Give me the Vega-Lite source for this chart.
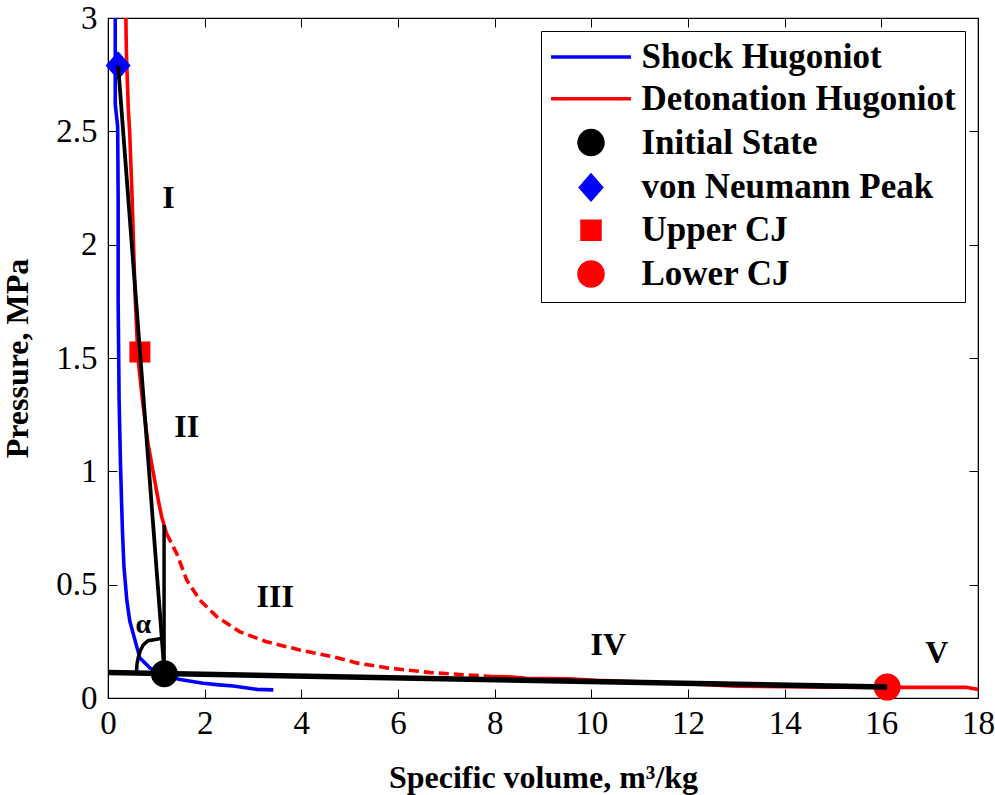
{
  "$schema": "https://vega.github.io/schema/vega-lite/v6.json",
  "width": 870,
  "height": 680,
  "autosize": {"type": "none"},
  "padding": {"left": 108, "top": 18, "right": 17, "bottom": 97},
  "background": "white",
  "config": {
    "view": {"stroke": "black", "strokeWidth": 1.2},
    "axis": {
      "grid": false,
      "labelFlush": false,
      "labelOverlap": false,
      "domainColor": "black",
      "tickColor": "black",
      "labelColor": "black",
      "titleColor": "black",
      "labelFont": "Liberation Serif",
      "labelFontSize": 33,
      "labelFontWeight": "normal",
      "titleFont": "Liberation Serif",
      "titleFontSize": 32,
      "titleFontWeight": "bold"
    },
    "legend": {
      "labelFont": "Liberation Serif",
      "labelFontSize": 35,
      "labelFontWeight": "bold",
      "labelColor": "black",
      "labelLimit": 500
    }
  },
  "datasets": {
    "shock": [
      {"v": 0.15, "p": 3.0}, {"v": 0.15, "p": 2.62}, {"v": 0.2, "p": 2.52}, {"v": 0.21, "p": 2.2},
      {"v": 0.21, "p": 1.75}, {"v": 0.23, "p": 1.31}, {"v": 0.26, "p": 1.02}, {"v": 0.28, "p": 0.87},
      {"v": 0.3, "p": 0.73}, {"v": 0.33, "p": 0.58}, {"v": 0.39, "p": 0.43}, {"v": 0.45, "p": 0.34},
      {"v": 0.52, "p": 0.285}, {"v": 0.66, "p": 0.176}, {"v": 0.87, "p": 0.132}, {"v": 1.14, "p": 0.1},
      {"v": 1.49, "p": 0.082}, {"v": 1.97, "p": 0.065}, {"v": 2.3, "p": 0.058}, {"v": 2.59, "p": 0.053},
      {"v": 3.08, "p": 0.038}, {"v": 3.42, "p": 0.036}
    ],
    "det": [
      {"branch": "upper", "v": 0.37, "p": 3.0}, {"branch": "upper", "v": 0.38, "p": 2.85},
      {"branch": "upper", "v": 0.42, "p": 2.6}, {"branch": "upper", "v": 0.45, "p": 2.49},
      {"branch": "upper", "v": 0.5, "p": 2.2}, {"branch": "upper", "v": 0.56, "p": 1.78},
      {"branch": "upper", "v": 0.62, "p": 1.5}, {"branch": "upper", "v": 0.72, "p": 1.3},
      {"branch": "upper", "v": 0.83, "p": 1.12}, {"branch": "upper", "v": 0.94, "p": 0.99},
      {"branch": "upper", "v": 1.04, "p": 0.873}, {"branch": "upper", "v": 1.11, "p": 0.8},
      {"branch": "upper", "v": 1.21, "p": 0.726},
      {"branch": "unstable", "v": 1.21, "p": 0.726}, {"branch": "unstable", "v": 1.42, "p": 0.638},
      {"branch": "unstable", "v": 1.63, "p": 0.52}, {"branch": "unstable", "v": 1.9, "p": 0.432},
      {"branch": "unstable", "v": 2.25, "p": 0.359}, {"branch": "unstable", "v": 2.73, "p": 0.292},
      {"branch": "unstable", "v": 3.28, "p": 0.248}, {"branch": "unstable", "v": 3.97, "p": 0.212},
      {"branch": "unstable", "v": 4.66, "p": 0.182}, {"branch": "unstable", "v": 5.14, "p": 0.155},
      {"branch": "unstable", "v": 5.77, "p": 0.133}, {"branch": "unstable", "v": 6.68, "p": 0.112},
      {"branch": "unstable", "v": 7.94, "p": 0.095},
      {"branch": "lower", "v": 7.94, "p": 0.095}, {"branch": "lower", "v": 8.3, "p": 0.093},
      {"branch": "lower", "v": 8.65, "p": 0.087}, {"branch": "lower", "v": 9.5, "p": 0.085},
      {"branch": "lower", "v": 10.1, "p": 0.078}, {"branch": "lower", "v": 11.0, "p": 0.072},
      {"branch": "lower", "v": 11.4, "p": 0.066}, {"branch": "lower", "v": 12.3, "p": 0.06},
      {"branch": "lower", "v": 13.0, "p": 0.052}, {"branch": "lower", "v": 14.0, "p": 0.05},
      {"branch": "lower", "v": 15.0, "p": 0.048}, {"branch": "lower", "v": 16.15, "p": 0.047},
      {"branch": "lower", "v": 17.0, "p": 0.047}, {"branch": "lower", "v": 17.75, "p": 0.047},
      {"branch": "lower", "v": 18.0, "p": 0.038}
    ],
    "states": [
      {"series": "Initial State", "v": 1.165, "p": 0.107},
      {"series": "von Neumann Peak", "v": 0.21, "p": 2.79},
      {"series": "Upper CJ", "v": 0.66, "p": 1.526},
      {"series": "Lower CJ", "v": 16.12, "p": 0.048}
    ],
    "rayleigh": [
      {"part": "vN-initial", "v": 0.21, "p": 2.79}, {"part": "vN-initial", "v": 1.17, "p": 0.105},
      {"part": "initial-lowerCJ", "v": 0.0, "p": 0.113}, {"part": "initial-lowerCJ", "v": 16.12, "p": 0.048}
    ],
    "construct": [
      {"part": "vertical", "v": 1.16, "p": 0.105}, {"part": "vertical", "v": 1.16, "p": 0.763},
      {"part": "arc", "v": 0.59, "p": 0.116}, {"part": "arc", "v": 0.6, "p": 0.15},
      {"part": "arc", "v": 0.63, "p": 0.182}, {"part": "arc", "v": 0.67, "p": 0.21},
      {"part": "arc", "v": 0.73, "p": 0.234}, {"part": "arc", "v": 0.83, "p": 0.253},
      {"part": "arc", "v": 1.01, "p": 0.259}, {"part": "arc", "v": 1.11, "p": 0.263}
    ],
    "regions": [
      {"label": "I", "v": 1.25, "p": 2.204},
      {"label": "II", "v": 1.63, "p": 1.197},
      {"label": "III", "v": 3.46, "p": 0.447},
      {"label": "IV", "v": 10.35, "p": 0.234},
      {"label": "V", "v": 17.15, "p": 0.198}
    ],
    "angle": [{"label": "α", "v": 0.73, "p": 0.32}]
  },
  "resolve": {"axis": {"x": "independent", "y": "independent"}},
  "layer": [
    {
      "data": {"name": "shock"},
      "mark": {"type": "line", "color": "#0000ff", "strokeWidth": 3.6, "clip": true},
      "encoding": {
        "x": {"field": "v", "type": "quantitative", "scale": {"domain": [0, 18], "nice": false, "zero": false},
          "axis": {"orient": "bottom", "values": [0, 2, 4, 6, 8, 10, 12, 14, 16, 18], "format": "d", "tickSize": -9, "labelPadding": 18, "title": "Specific volume, m³/kg", "titlePadding": 22}},
        "y": {"field": "p", "type": "quantitative", "scale": {"domain": [0, 3], "nice": false, "zero": false},
          "axis": {"orient": "left", "values": [0, 0.5, 1, 1.5, 2, 2.5, 3], "format": "~g", "tickSize": -9, "labelPadding": 20, "title": "Pressure, MPa", "titlePadding": 21}},
        "order": {"field": "p", "sort": "descending"}
      }
    },
    {
      "data": {"name": "det"},
      "transform": [{"filter": "datum.branch === 'upper'"}],
      "mark": {"type": "line", "color": "#ff0000", "strokeWidth": 3.6, "clip": true},
      "encoding": {
        "x": {"field": "v", "type": "quantitative", "scale": {"domain": [0, 18], "nice": false, "zero": false}, "axis": null},
        "y": {"field": "p", "type": "quantitative", "scale": {"domain": [0, 3], "nice": false, "zero": false}, "axis": null},
        "order": {"field": "v"}
      }
    },
    {
      "data": {"name": "det"},
      "transform": [{"filter": "datum.branch === 'unstable'"}],
      "mark": {"type": "line", "color": "#ff0000", "strokeWidth": 3.6, "strokeDash": [10, 5], "clip": true},
      "encoding": {
        "x": {"field": "v", "type": "quantitative", "scale": {"domain": [0, 18], "nice": false, "zero": false}, "axis": null},
        "y": {"field": "p", "type": "quantitative", "scale": {"domain": [0, 3], "nice": false, "zero": false}, "axis": null},
        "order": {"field": "v"}
      }
    },
    {
      "data": {"name": "det"},
      "transform": [{"filter": "datum.branch === 'lower'"}],
      "mark": {"type": "line", "color": "#ff0000", "strokeWidth": 3.6, "clip": true},
      "encoding": {
        "x": {"field": "v", "type": "quantitative", "scale": {"domain": [0, 18], "nice": false, "zero": false}, "axis": null},
        "y": {"field": "p", "type": "quantitative", "scale": {"domain": [0, 3], "nice": false, "zero": false}, "axis": null},
        "order": {"field": "v"}
      }
    },
    {
      "data": {"name": "states"},
      "mark": {"type": "point", "filled": true, "opacity": 1, "size": 576, "strokeWidth": 3},
      "encoding": {
        "x": {"field": "v", "type": "quantitative", "scale": {"domain": [0, 18], "nice": false, "zero": false}, "axis": null},
        "y": {"field": "p", "type": "quantitative", "scale": {"domain": [0, 3], "nice": false, "zero": false}, "axis": null},
        "fill": {
          "field": "series", "type": "nominal",
          "scale": {
            "domain": ["Shock Hugoniot", "Detonation Hugoniot", "Initial State", "von Neumann Peak", "Upper CJ", "Lower CJ"],
            "range": ["#0000ff", "#ff0000", "#000000", "#0000ff", "#ff0000", "#ff0000"]
          },
          "legend": {
            "title": null,
            "orient": "top-right",
            "offset": 13,
            "strokeColor": "black",
            "fillColor": "white",
            "padding": 8.5,
            "rowPadding": 5.8,
            "symbolSize": 576,
            "symbolStrokeWidth": 3.5,
            "symbolOpacity": 1,
            "symbolOffset": 24,
            "labelOffset": 33,
            "labelBaseline": "middle"
          }
        },
        "stroke": {
          "field": "series", "type": "nominal",
          "scale": {
            "domain": ["Shock Hugoniot", "Detonation Hugoniot", "Initial State", "von Neumann Peak", "Upper CJ", "Lower CJ"],
            "range": ["#0000ff", "#ff0000", "#000000", "#0000ff", "#ff0000", "#ff0000"]
          },
          "legend": {"title": null}
        },
        "shape": {
          "field": "series", "type": "nominal",
          "scale": {
            "domain": ["Shock Hugoniot", "Detonation Hugoniot", "Initial State", "von Neumann Peak", "Upper CJ", "Lower CJ"],
            "range": ["M-3.33,0H3.33", "M-3.33,0H3.33", "circle", "M0,-1L0.875,0L0,1L-0.875,0Z", "M-0.75,-0.75H0.75V0.75H-0.75Z", "circle"]
          },
          "legend": {"title": null}
        }
      }
    },
    {
      "data": {"name": "rayleigh"},
      "transform": [{"filter": "datum.part === 'vN-initial'"}],
      "mark": {"type": "line", "color": "black", "strokeWidth": 3.8, "clip": true},
      "encoding": {
        "x": {"field": "v", "type": "quantitative", "scale": {"domain": [0, 18], "nice": false, "zero": false}, "axis": null},
        "y": {"field": "p", "type": "quantitative", "scale": {"domain": [0, 3], "nice": false, "zero": false}, "axis": null}
      }
    },
    {
      "data": {"name": "rayleigh"},
      "transform": [{"filter": "datum.part === 'initial-lowerCJ'"}],
      "mark": {"type": "line", "color": "black", "strokeWidth": 5.5, "clip": true},
      "encoding": {
        "x": {"field": "v", "type": "quantitative", "scale": {"domain": [0, 18], "nice": false, "zero": false}, "axis": null},
        "y": {"field": "p", "type": "quantitative", "scale": {"domain": [0, 3], "nice": false, "zero": false}, "axis": null}
      }
    },
    {
      "data": {"name": "construct"},
      "mark": {"type": "line", "color": "black", "strokeWidth": 3.5, "clip": true},
      "encoding": {
        "x": {"field": "v", "type": "quantitative", "scale": {"domain": [0, 18], "nice": false, "zero": false}, "axis": null},
        "y": {"field": "p", "type": "quantitative", "scale": {"domain": [0, 3], "nice": false, "zero": false}, "axis": null},
        "detail": {"field": "part"},
        "order": {"field": "v"}
      }
    },
    {
      "data": {"name": "angle"},
      "mark": {"type": "text", "font": "Liberation Serif", "fontWeight": "bold", "fontSize": 28, "color": "black", "align": "center", "baseline": "middle"},
      "encoding": {
        "x": {"field": "v", "type": "quantitative", "scale": {"domain": [0, 18], "nice": false, "zero": false}, "axis": null},
        "y": {"field": "p", "type": "quantitative", "scale": {"domain": [0, 3], "nice": false, "zero": false}, "axis": null},
        "text": {"field": "label"}
      }
    },
    {
      "data": {"name": "regions"},
      "mark": {"type": "text", "font": "Liberation Serif", "fontWeight": "bold", "fontSize": 32, "color": "black", "align": "center", "baseline": "middle"},
      "encoding": {
        "x": {"field": "v", "type": "quantitative", "scale": {"domain": [0, 18], "nice": false, "zero": false},
          "axis": {"orient": "top", "values": [0, 2, 4, 6, 8, 10, 12, 14, 16, 18], "labels": false, "title": null, "tickSize": -9}},
        "y": {"field": "p", "type": "quantitative", "scale": {"domain": [0, 3], "nice": false, "zero": false},
          "axis": {"orient": "right", "values": [0, 0.5, 1, 1.5, 2, 2.5, 3], "labels": false, "title": null, "tickSize": -9}},
        "text": {"field": "label"}
      }
    }
  ]
}
